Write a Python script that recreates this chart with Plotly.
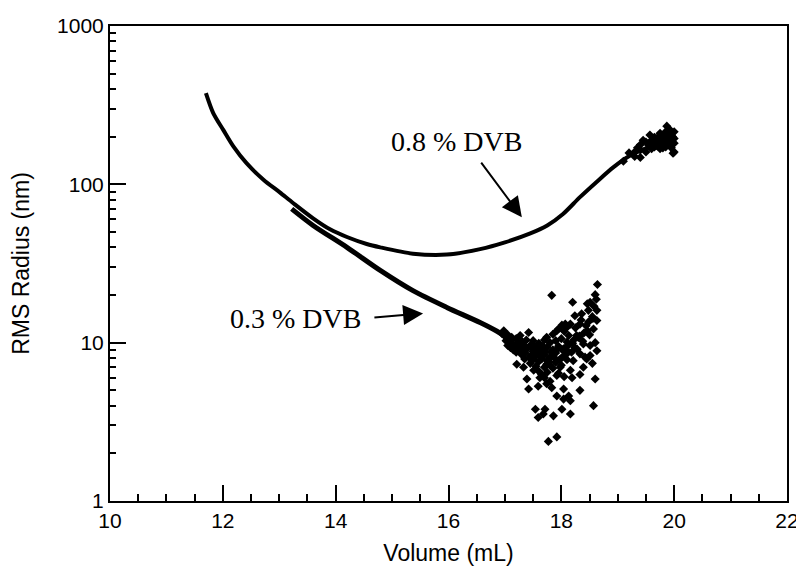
import numpy as np
import plotly.graph_objects as go

# 0.8 % DVB smooth trace (Volume mL, RMS radius nm)
vol_08 = [11.70, 11.83, 12.01, 12.19, 12.42, 12.72, 13.01, 13.25, 13.60, 13.90,
          14.20, 14.55, 14.79, 15.37, 15.97, 16.56, 17.00, 17.45, 17.75, 18.03,
          18.33, 18.63, 18.92, 19.22, 19.52, 19.80, 20.00]
rms_08 = [377, 282, 220, 173, 136, 107, 89, 76, 61, 52,
          46.5, 42, 40, 36.5, 36, 39, 43, 49, 55, 65,
          83, 104, 128, 152, 170, 183, 188]

# noisy end of 0.8 % DVB
vol_08_pts = [19.30, 19.30, 19.40, 19.40, 19.40, 19.45, 19.50, 19.50, 19.57, 19.60,
              19.60, 19.60, 19.65, 19.65, 19.70, 19.70, 19.70, 19.75, 19.75, 19.75,
              19.80, 19.80, 19.80, 19.85, 19.85, 19.85, 19.87, 19.90, 19.90, 19.95,
              19.95, 19.95, 20.00, 20.00, 20.00, 20.00, 19.98, 19.92, 19.20, 19.10,
              19.35, 19.55, 19.68, 19.78, 19.88, 19.97]
rms_08_pts = [160, 150, 148, 178, 165, 190, 185, 160, 205, 190,
              168, 178, 198, 172, 196, 175, 188, 210, 168, 192,
              180, 200, 170, 215, 185, 172, 233, 200, 178, 190,
              170, 208, 160, 195, 215, 182, 157, 222, 158, 140,
              170, 176, 182, 186, 193, 200]

# 0.3 % DVB smooth trace
vol_03 = [13.22, 13.60, 14.20, 14.79, 15.37, 15.97, 16.56, 16.86, 17.15]
rms_03 = [70, 55, 40, 28.6, 21.3, 16.7, 13.4, 11.8, 10.2]

# scattered tail of 0.3 % DVB
vol_03_pts = [18.64, 18.60, 18.51, 18.46, 17.83, 18.20, 18.63, 18.48, 18.36, 18.24,
              18.63, 18.48, 18.16, 18.07, 18.01, 18.33, 18.57, 18.46, 17.42, 17.27,
              17.92, 18.13, 18.27, 17.74, 18.60, 18.39, 18.51, 18.24, 18.63, 18.10,
              18.33, 18.51, 17.86, 18.45, 18.21, 17.74, 17.98, 18.39, 18.16, 17.51,
              17.33, 17.21, 18.33, 17.92, 17.62, 18.19, 17.39, 18.60, 17.74, 17.59,
              17.42, 17.83, 18.04, 18.33, 17.92, 18.13, 18.04, 18.16, 18.57, 17.54,
              17.71, 18.01, 17.59, 17.68, 17.86, 18.16, 17.77, 17.92,
              17.05, 17.05, 17.05, 17.10, 17.10, 17.20, 17.20, 17.20, 17.30, 17.30,
              17.30, 17.35, 17.35, 17.45, 17.45, 17.45, 17.50, 17.50, 17.50, 17.55,
              17.55, 17.55, 17.60, 17.60, 17.60, 17.60, 17.65, 17.65, 17.65, 17.70,
              17.70, 17.70, 17.70, 17.75, 17.75, 17.75, 17.80, 17.80, 17.80, 17.80,
              17.85, 17.85, 17.85, 17.90, 17.90, 17.90, 17.95, 17.95, 17.95, 18.00,
              18.00, 18.00, 18.05, 18.05, 18.05, 18.10, 18.10, 18.10, 18.20, 18.25,
              18.30, 18.35, 18.40, 18.42, 18.55, 18.55, 17.25, 17.38, 17.48, 17.58,
              17.00, 17.02, 17.08, 17.12, 17.15, 17.18, 17.22, 17.28, 17.32, 17.36,
              17.40, 17.44, 17.48, 17.52, 17.57, 17.62, 17.67, 17.72, 17.78, 17.82,
              17.88, 17.93, 17.97, 18.02, 18.08, 18.12, 18.18, 18.22, 18.28, 18.32,
              18.38, 18.44, 18.50, 18.56, 18.58, 18.62, 16.95, 16.98, 17.12, 17.24]
rms_03_pts = [23.3, 20.1, 18.0, 17.6, 19.9, 18.0, 16.0, 16.0, 15.2, 14.8,
              13.8, 13.5, 13.1, 13.1, 12.9, 13.1, 12.2, 11.9, 11.6, 11.1,
              11.9, 11.1, 11.1, 10.8, 10.0, 9.8, 9.6, 9.3, 8.9, 8.9,
              8.5, 8.3, 8.5, 7.9, 7.7, 7.3, 7.0, 7.0, 6.7, 6.7,
              7.0, 7.3, 6.3, 6.2, 6.0, 6.0, 5.9, 5.9, 5.5, 5.3,
              5.1, 5.2, 5.1, 5.0, 4.6, 4.6, 4.4, 4.3, 4.0, 3.8,
              3.8, 3.8, 3.37, 3.54, 3.45, 3.54, 2.38, 2.54,
              10.5, 9.6, 11.2, 9.3, 10.1, 9.8, 8.7, 10.6, 8.4, 9.4,
              10.2, 7.9, 9.0, 8.2, 9.6, 7.4, 8.8, 7.8, 10.3, 7.1,
              8.3, 9.2, 6.6, 7.6, 8.6, 9.9, 7.9, 9.1, 6.3, 8.4,
              7.0, 10.4, 6.0, 9.4, 7.7, 6.5, 8.1, 10.0, 7.2, 5.7,
              9.0, 6.9, 11.3, 7.5, 8.6, 10.3, 9.5, 6.4, 12.2, 8.0,
              10.6, 7.2, 9.2, 6.1, 11.8, 10.1, 7.8, 12.5, 9.9, 12.4,
              10.8, 13.9, 11.5, 8.1, 14.6, 7.4, 9.2, 10.4, 9.7, 8.9,
              11.0, 10.3, 9.9, 10.8, 9.0, 9.6, 9.1, 8.9, 9.7, 8.6,
              9.2, 8.0, 9.4, 8.5, 8.9, 8.2, 9.5, 8.8, 7.6, 8.7,
              8.0, 9.1, 7.8, 9.0, 8.4, 9.6, 8.7, 10.4, 9.1, 11.0,
              10.2, 12.8, 11.2, 14.2, 17.0, 18.8, 11.4, 11.9, 10.6, 9.9]

y_major = [1, 10, 100, 1000]
y_minor = [m * d for d in (1, 10, 100) for m in range(2, 10)]

sans = "Liberation Sans, Arial, sans-serif"
axis_font = dict(family=sans, size=21, color="black")
title_font = dict(family=sans, size=23, color="black")
label_font = dict(family="Liberation Serif, Times New Roman, serif", size=28, color="black")

fig = go.Figure()
fig.add_trace(go.Scatter(x=vol_08, y=rms_08, mode="lines",
                         line=dict(color="black", width=4, shape="spline", smoothing=0.8)))
fig.add_trace(go.Scatter(x=vol_08_pts, y=rms_08_pts, mode="markers",
                         marker=dict(symbol="diamond", size=7, color="black")))
fig.add_trace(go.Scatter(x=vol_03, y=rms_03, mode="lines",
                         line=dict(color="black", width=5, shape="spline", smoothing=0.8)))
fig.add_trace(go.Scatter(x=vol_03_pts, y=rms_03_pts, mode="markers",
                         marker=dict(symbol="diamond", size=7, color="black")))

# labels and arrows
fig.add_annotation(x=16.15, y=np.log10(187), text="0.8 % DVB", showarrow=False, font=label_font)
fig.add_annotation(x=17.3, y=np.log10(62), ax=16.56, ay=np.log10(140), axref="x", ayref="y",
                   text="", showarrow=True, arrowhead=2, arrowsize=2, arrowwidth=2, arrowcolor="black")
fig.add_annotation(x=13.28, y=np.log10(14.2), text="0.3 % DVB", showarrow=False, font=label_font)
fig.add_annotation(x=15.55, y=np.log10(15.3), ax=14.66, ay=np.log10(14.4), axref="x", ayref="y",
                   text="", showarrow=True, arrowhead=2, arrowsize=2, arrowwidth=2, arrowcolor="black")

fig.update_xaxes(range=[10, 22], dtick=2, ticks="inside", ticklen=16, tickwidth=1.5, tickcolor="black",
                 minor=dict(dtick=0.5, ticks="inside", ticklen=7, tickwidth=1.5, tickcolor="black"),
                 showline=True, linecolor="black", linewidth=2, mirror=True, showgrid=False, zeroline=False,
                 tickfont=axis_font, automargin=False,
                 title=dict(text="Volume (mL)", font=title_font, standoff=14))
fig.update_yaxes(type="log", range=[0, 3], tickvals=y_major, ticktext=[str(v) for v in y_major],
                 ticks="inside", ticklen=16, tickwidth=1.5, tickcolor="black",
                 minor=dict(tickvals=y_minor, ticks="inside", ticklen=6, tickwidth=1.5, tickcolor="black"),
                 showline=True, linecolor="black", linewidth=2, mirror=True, showgrid=False, zeroline=False,
                 tickfont=axis_font, automargin=False,
                 title=dict(text="RMS Radius (nm)", font=title_font, standoff=22))

# page body has an 8px margin, so the figure is made that much smaller
fig.update_layout(width=796, height=559, margin=dict(l=102, r=17, t=18, b=66),
                  paper_bgcolor="white", plot_bgcolor="white", showlegend=False)

fig.write_html("out.html")
